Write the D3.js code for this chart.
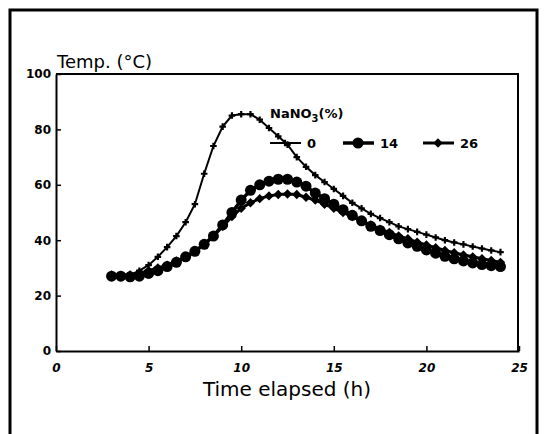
<!DOCTYPE html>
<html>
<head>
<meta charset="utf-8">
<script src="https://cdn.jsdelivr.net/npm/d3@7"></script>
<style>
  body { margin: 0; background: #fff; }
  svg { display: block; }
  .tick text { font-family: "DejaVu Sans", sans-serif; font-weight: bold; font-size: 12px; fill: #000; }
</style>
</head>
<body>
<div id="chart"></div>
<script>
// Sampling times (h)
const hours = [3, 3.5, 4, 4.5, 5, 5.5, 6, 6.5, 7, 7.5, 8, 8.5, 9, 9.5, 10, 10.5, 11, 11.5, 12, 12.5,
    13, 13.5, 14, 14.5, 15, 15.5, 16, 16.5, 17, 17.5, 18, 18.5, 19, 19.5, 20, 20.5, 21, 21.5, 22, 22.5,
    23, 23.5, 24];

// Temperature (°C) for each NaNO3 level
const temp0 = [27, 27, 27.5, 29, 31, 34, 37.5, 41.5, 46.5, 53, 64, 74, 81, 85, 85.5, 85.5, 83.5, 80.5, 77.5, 74.5,
    70, 66.5, 63.5, 61, 58.5, 56, 53.5, 51.5, 49.5, 48, 46.5, 45, 44, 43, 42, 41, 40, 39.2, 38.5, 37.7,
    37, 36.3, 35.7];
const temp14 = [27, 27, 26.8, 27, 28, 29, 30.5, 32, 34, 36, 38.5, 41.5, 45.5, 50, 54.5, 58, 60, 61.3, 62, 62,
    61, 59.5, 57, 55, 53, 51, 49, 47, 45, 43.5, 42, 40.5, 39, 37.8, 36.5, 35.3, 34.2, 33.3, 32.5, 31.8,
    31.2, 30.8, 30.5];
const temp26 = [27.5, 27.3, 27.5, 28, 29, 30, 31, 32.5, 34, 36, 38.5, 41.5, 45, 48.5, 51.5, 53.5, 55, 56, 56.5, 56.7,
    56.5, 55.5, 54.5, 53, 51.5, 50, 48.5, 47, 45.5, 44, 42.8, 41.5, 40.5, 39.3, 38.3, 37.3, 36.3, 35.5, 34.7, 34,
    33.3, 32.7, 32];

const seriesNames = ['0', '14', '26'];
const xTicks = [0, 5, 10, 15, 20, 25];
const yTicks = [0, 20, 40, 60, 80, 100];

document.addEventListener('DOMContentLoaded', function() {
    const width = 546, height = 434;
    const svg = d3.select('#chart').append('svg')
        .attr('width', width)
        .attr('height', height);

    svg.append('rect').attr('width', width).attr('height', height).attr('fill', '#fff');

    // outer frame (bottom edge runs off the picture)
    svg.append('rect')
        .attr('x', 10).attr('y', 10)
        .attr('width', 527).attr('height', 440)
        .attr('fill', 'none').attr('stroke', '#000').attr('stroke-width', 3);

    const x = d3.scaleLinear().domain([0, 25]).range([56, 519]);
    const y = d3.scaleLinear().domain([0, 100]).range([351, 74]);

    // axes
    const xAxis = svg.append('g')
        .attr('transform', `translate(0,${y(0)})`)
        .call(d3.axisBottom(x).tickValues(xTicks).tickSizeInner(-5).tickSizeOuter(0).tickPadding(12));
    xAxis.selectAll('text').style('font-style', 'italic');

    const yAxis = svg.append('g')
        .attr('transform', `translate(${x(0)},0)`)
        .call(d3.axisLeft(y).tickValues(yTicks).tickSizeInner(-5).tickSizeOuter(0).tickPadding(5));

    [xAxis, yAxis].forEach(g => {
        g.select('.domain').attr('stroke-width', 2);
        g.selectAll('.tick line').attr('stroke-width', 1.5);
    });

    // top and right edges of the plot box
    svg.append('line')
        .attr('x1', x(0)).attr('x2', x(25))
        .attr('y1', y(100)).attr('y2', y(100))
        .attr('stroke', '#000').attr('stroke-width', 2);
    svg.append('line')
        .attr('x1', x(25) - 1).attr('x2', x(25) - 1)
        .attr('y1', y(100)).attr('y2', y(0))
        .attr('stroke', '#000').attr('stroke-width', 2);

    // axis titles
    svg.append('text')
        .attr('x', 57).attr('y', 68)
        .style('font-family', '"DejaVu Sans", sans-serif')
        .style('font-size', '18px')
        .text('Temp. (°C)');

    svg.append('text')
        .attr('x', 287).attr('y', 396)
        .attr('text-anchor', 'middle')
        .style('font-family', '"DejaVu Sans", sans-serif')
        .style('font-size', '20px')
        .text('Time elapsed (h)');

    // series
    const allSeries = [
        { name: seriesNames[0], values: temp0, symbol: d3.symbolCross, size: 24, lw: 2, rot: 0 },
        { name: seriesNames[1], values: temp14, symbol: d3.symbolCircle, size: 95, lw: 3.5, rot: 0 },
        { name: seriesNames[2], values: temp26, symbol: d3.symbolSquare, size: 44, lw: 3, rot: 45 }
    ];

    const line = d3.line()
        .x((d, i) => x(hours[i]))
        .y(d => y(d));

    allSeries.forEach(s => {
        svg.append('path')
            .datum(s.values)
            .attr('fill', 'none')
            .attr('stroke', '#000')
            .attr('stroke-width', s.lw)
            .attr('d', line);

        svg.selectAll(null)
            .data(s.values)
            .enter()
            .append('path')
            .attr('d', d3.symbol().type(s.symbol).size(s.size))
            .attr('transform', (d, i) => `translate(${x(hours[i])},${y(d)}) rotate(${s.rot})`)
            .attr('fill', '#000');
    });

    // legend
    const legendTitle = svg.append('text')
        .attr('x', 270).attr('y', 118)
        .style('font-family', '"DejaVu Sans", sans-serif')
        .style('font-weight', 'bold')
        .style('font-size', '13px');
    legendTitle.append('tspan').text('NaNO');
    legendTitle.append('tspan').attr('dy', 4).style('font-size', '10px').text('3');
    legendTitle.append('tspan').attr('dy', -4).text('(%)');

    const legendX = [270, 343, 423];
    const legendY = 143;
    allSeries.forEach((s, i) => {
        const lx = legendX[i];
        svg.append('line')
            .attr('x1', lx).attr('x2', lx + 31)
            .attr('y1', legendY).attr('y2', legendY)
            .attr('stroke', '#000').attr('stroke-width', s.lw);
        svg.append('path')
            .attr('d', d3.symbol().type(s.symbol).size(s.size))
            .attr('transform', `translate(${lx + 15},${legendY}) rotate(${s.rot})`)
            .attr('fill', '#000');
        svg.append('text')
            .attr('x', lx + 37).attr('y', legendY + 5)
            .style('font-family', '"DejaVu Sans", sans-serif')
            .style('font-weight', 'bold')
            .style('font-size', '13px')
            .text(s.name);
    });
});
</script>
</body>
</html>
